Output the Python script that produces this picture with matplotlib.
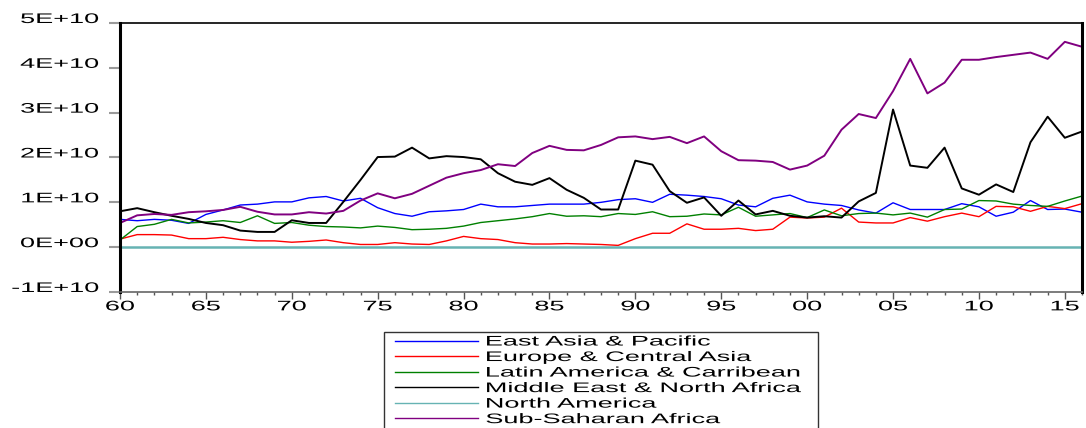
import numpy as np
import matplotlib
matplotlib.use('Agg')
import matplotlib.pyplot as plt
import matplotlib.patheffects as pe
from matplotlib.transforms import Affine2D
from matplotlib.patches import Rectangle

years = np.arange(1960, 2017)

# values in units of 1E+10
east_asia = [0.62, 0.59, 0.62, 0.60, 0.53, 0.73, 0.83, 0.94, 0.96, 1.01,
             1.01, 1.10, 1.13, 1.03, 1.09, 0.88, 0.75, 0.69, 0.79, 0.81,
             0.84, 0.96, 0.90, 0.90, 0.93, 0.96, 0.96, 0.96, 1.00, 1.06,
             1.08, 1.00, 1.18, 1.16, 1.13, 1.08, 0.94, 0.90, 1.09, 1.16,
             1.01, 0.96, 0.93, 0.83, 0.76, 0.99, 0.84, 0.84, 0.84, 0.97,
             0.90, 0.69, 0.78, 1.04, 0.84, 0.85, 0.78]
europe = [0.18, 0.28, 0.28, 0.27, 0.19, 0.19, 0.22, 0.17, 0.14, 0.14,
          0.11, 0.13, 0.16, 0.10, 0.06, 0.06, 0.10, 0.07, 0.06, 0.14,
          0.24, 0.19, 0.17, 0.10, 0.07, 0.07, 0.08, 0.07, 0.06, 0.04,
          0.19, 0.31, 0.31, 0.52, 0.40, 0.40, 0.42, 0.37, 0.40, 0.67,
          0.65, 0.67, 0.87, 0.56, 0.54, 0.54, 0.66, 0.58, 0.68, 0.76,
          0.68, 0.91, 0.90, 0.80, 0.91, 0.86, 0.97]
latin = [0.16, 0.46, 0.51, 0.62, 0.54, 0.56, 0.59, 0.55, 0.70, 0.53,
         0.55, 0.49, 0.46, 0.45, 0.43, 0.47, 0.44, 0.39, 0.40, 0.42,
         0.47, 0.55, 0.59, 0.63, 0.68, 0.75, 0.69, 0.70, 0.68, 0.75,
         0.73, 0.79, 0.68, 0.69, 0.74, 0.72, 0.89, 0.69, 0.72, 0.75,
         0.66, 0.83, 0.70, 0.75, 0.76, 0.72, 0.76, 0.67, 0.84, 0.85,
         1.04, 1.03, 0.96, 0.93, 0.91, 1.03, 1.14]
mena = [0.80, 0.87, 0.78, 0.70, 0.63, 0.54, 0.49, 0.37, 0.34, 0.34,
        0.60, 0.54, 0.54, 1.01, 1.50, 2.01, 2.02, 2.22, 1.98, 2.03,
        2.01, 1.96, 1.65, 1.46, 1.39, 1.54, 1.28, 1.10, 0.84, 0.84,
        1.93, 1.84, 1.25, 0.99, 1.11, 0.70, 1.04, 0.73, 0.81, 0.70,
        0.66, 0.69, 0.66, 1.02, 1.21, 3.07, 1.82, 1.77, 2.22, 1.31,
        1.17, 1.40, 1.23, 2.34, 2.91, 2.44, 2.58]
north_am = [0.00, 0.00, 0.00, 0.00, 0.00, 0.00, 0.00, 0.00, 0.00, 0.00,
            0.00, 0.00, 0.00, 0.00, 0.00, 0.00, 0.00, 0.00, 0.00, 0.00,
            0.00, 0.00, 0.00, 0.00, 0.00, 0.00, 0.00, 0.00, 0.00, 0.00,
            0.00, 0.00, 0.00, 0.00, 0.00, 0.00, 0.00, 0.00, 0.00, 0.00,
            0.00, 0.00, 0.00, 0.00, 0.00, 0.00, 0.00, 0.00, 0.00, 0.00,
            0.00, 0.00, 0.00, 0.00, 0.00, 0.00, 0.00]
ssa = [0.54, 0.71, 0.74, 0.72, 0.78, 0.80, 0.83, 0.90, 0.79, 0.73,
       0.73, 0.78, 0.75, 0.81, 1.04, 1.20, 1.09, 1.19, 1.37, 1.55,
       1.65, 1.72, 1.85, 1.81, 2.10, 2.26, 2.17, 2.16, 2.28, 2.45,
       2.47, 2.41, 2.46, 2.32, 2.47, 2.14, 1.94, 1.93, 1.90, 1.73,
       1.82, 2.04, 2.62, 2.97, 2.88, 3.48, 4.20, 3.43, 3.67, 4.18,
       4.18, 4.24, 4.29, 4.34, 4.20, 4.58, 4.47]

names = ['East Asia & Pacific', 'Europe & Central Asia', 'Latin America & Carribean',
         'Middle East & North Africa', 'North America', 'Sub-Saharan Africa']
colors = ['#0000ff', '#ff0000', '#008000', '#000000', '#66b3b3', '#800080']
widths = [1.0, 1.0, 1.0, 1.4, 1.8, 1.4]

x_major = np.arange(1960, 2016, 5)
x_labels = ['60', '65', '70', '75', '80', '85', '90', '95', '00', '05', '10', '15']
y_ticks = np.arange(-1, 6) * 1e10
y_labels = ['-1E+10', '0E+00', '1E+10', '2E+10', '3E+10', '4E+10', '5E+10']


class Stretch(pe.AbstractPathEffect):
    # wide lettering: scale glyphs horizontally about a point of the string
    def __init__(self, sx=1.95, anchor=0.0):
        super().__init__()
        self.sx = sx
        self.anchor = anchor

    def draw_path(self, renderer, gc, tpath, affine, rgbFace=None):
        ext = tpath.get_extents()
        x_ref = ext.x0 + self.anchor * (ext.x1 - ext.x0)
        wide = Affine2D().translate(-x_ref, 0).scale(self.sx, 1).translate(x_ref, 0)
        renderer.draw_path(gc, tpath, wide + affine, rgbFace)


plt.rcParams['font.family'] = ['Liberation Sans', 'DejaVu Sans']
plt.rcParams['font.size'] = 10
plt.rcParams['axes.unicode_minus'] = False

fig = plt.figure(figsize=(10.86, 4.28), dpi=100)
ax = fig.add_axes([120 / 1086, 1 - 292 / 428, 962 / 1086, 269 / 428])

for vals, name, col, lw in zip([east_asia, europe, latin, mena, north_am, ssa],
                               names, colors, widths):
    ax.plot(years, np.array(vals) * 1e10, color=col, lw=lw, label=name)

ax.set_xlim(1960, 2016)
ax.set_ylim(-1e10, 5e10)
ax.set_xticks(x_major, labels=x_labels)
ax.set_xticks(years, minor=True)
ax.set_yticks(y_ticks, labels=y_labels)

ax.tick_params(axis='x', which='major', direction='out', length=4.8, width=1,
               color='#555555', pad=0.5)
ax.tick_params(axis='x', which='minor', direction='out', length=2.4, width=1,
               color='#555555')
ax.tick_params(axis='y', direction='out', length=8, width=1.5, color='#9a9a9a', pad=7.5)

for side in ['left', 'right']:
    ax.spines[side].set_linewidth(2.2)
    ax.spines[side].set_color('black')
ax.spines['top'].set_linewidth(1.2)
ax.spines['bottom'].set_linewidth(1.2)
ax.spines['bottom'].set_color('#666666')

plt.setp(ax.get_yticklabels(), va='baseline')
for lab in ax.get_yticklabels():
    lab.set_path_effects([Stretch(anchor=1.0)])
for lab in ax.get_xticklabels():
    lab.set_path_effects([Stretch(anchor=0.5)])

leg = ax.legend(loc='upper left', bbox_to_anchor=(394.8 / 1086, 1 - 334.5 / 428),
                bbox_transform=fig.transFigure, frameon=False, borderpad=0,
                borderaxespad=0, handlelength=6.0, handletextpad=0.56,
                labelspacing=0.11, fontsize=10)
for t in leg.get_texts():
    t.set_path_effects([Stretch(sx=1.95, anchor=0.0)])
for h in leg.get_lines():
    h.set_linewidth(1.0)

# legend box runs off the bottom of the figure
fig.add_artist(Rectangle((384 / 1086, -0.1), 434 / 1086, 1 - 332 / 428 + 0.1,
                         transform=fig.transFigure, fill=False,
                         edgecolor='#333333', lw=1.0))

fig.savefig('out.png', dpi=100)
